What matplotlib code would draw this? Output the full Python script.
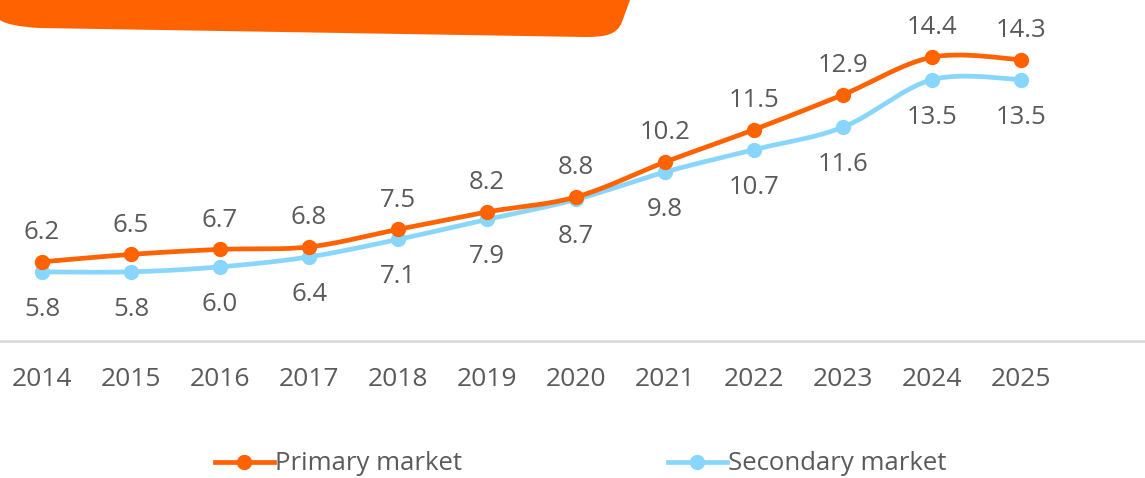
import numpy as np
import matplotlib
matplotlib.use("Agg")
import matplotlib.pyplot as plt
from matplotlib.path import Path
from matplotlib.patches import PathPatch
from matplotlib.lines import Line2D

years = ["2014", "2015", "2016", "2017", "2018", "2019", "2020",
         "2021", "2022", "2023", "2024", "2025"]
primary = [6.2, 6.5, 6.7, 6.8, 7.5, 8.2, 8.8, 10.2, 11.5, 12.9, 14.4, 14.3]
secondary = [5.8, 5.8, 6.0, 6.4, 7.1, 7.9, 8.7, 9.8, 10.7, 11.6, 13.5, 13.5]
series_names = ["Primary market", "Secondary market"]

ORANGE = "#FF6200"
BLUE = "#89D6FD"
TEXT = "#5a5a5a"
FONT = ["Open Sans", "DejaVu Sans"]
plt.rcParams['font.family'] = FONT

W, H = 1145, 478
fig = plt.figure(figsize=(W / 100, H / 100), dpi=100)

# banner overlay (pixel coords)
bax = fig.add_axes([0, 0, 1, 1], zorder=0)
bax.set_xlim(0, W)
bax.set_ylim(H, 0)
bax.axis("off")
verts = [(0, 0), (630, 0), (622, 22),
         (617, 35), (605, 37), (585, 37),
         (40, 28),
         (20, 27), (5, 24), (0, 20),
         (0, 0)]
codes = [Path.MOVETO, Path.LINETO, Path.LINETO,
         Path.CURVE4, Path.CURVE4, Path.CURVE4,
         Path.LINETO,
         Path.CURVE4, Path.CURVE4, Path.CURVE4,
         Path.CLOSEPOLY]
bax.add_patch(PathPatch(Path(verts, codes), facecolor=ORANGE, edgecolor="none"))

ax = fig.add_axes([0, (H - 341) / H, 1, 341 / H], zorder=1)
ax.patch.set_alpha(0)


def smooth(xs, ys, n=30):
    xs = np.asarray(xs, float)
    ys = np.asarray(ys, float)
    px = np.concatenate([[xs[0]], xs, [xs[-1]]])
    py = np.concatenate([[ys[0]], ys, [ys[-1]]])
    outx, outy = [], []
    t = np.linspace(0, 1, n)
    for i in range(1, len(px) - 2):
        p0 = np.array([px[i], py[i]])
        p3 = np.array([px[i + 1], py[i + 1]])
        p1 = p0 + (np.array([px[i + 1], py[i + 1]]) - np.array([px[i - 1], py[i - 1]])) / 6
        p2 = p3 - (np.array([px[i + 2], py[i + 2]]) - np.array([px[i], py[i]])) / 6
        b = ((1 - t) ** 3)[:, None] * p0 + (3 * (1 - t) ** 2 * t)[:, None] * p1 \
            + (3 * (1 - t) * t ** 2)[:, None] * p2 + (t ** 3)[:, None] * p3
        outx.extend(b[:, 0])
        outy.extend(b[:, 1])
    return np.array(outx), np.array(outy)


x = np.arange(len(years))
for vals, col, z in [(secondary, BLUE, 2), (primary, ORANGE, 3)]:
    sx, sy = smooth(x, vals)
    ax.plot(sx, sy, color=col, lw=3.4, zorder=z, solid_capstyle="round")
    ax.plot(x, vals, "o", color=col, ms=10, zorder=z)

for xi, v in zip(x, primary):
    ax.annotate(f"{v:.1f}", (xi, v), xytext=(0, 12), textcoords="offset points",
                ha="center", va="bottom", fontsize=18.5, color=TEXT)
for xi, v in zip(x, secondary):
    ax.annotate(f"{v:.1f}", (xi, v), xytext=(0, -18), textcoords="offset points",
                ha="center", va="top", fontsize=18.5, color=TEXT)

ax.set_xlim(-0.472, 12.39)
ax.set_ylim(3.03, 16.69)
for s in ["top", "right", "left"]:
    ax.spines[s].set_visible(False)
ax.spines["bottom"].set_color("#d9d9d9")
ax.spines["bottom"].set_linewidth(1.8)
ax.set_yticks([])
ax.set_xticks(x)
ax.set_xticklabels(years, fontsize=19, color=TEXT)
ax.tick_params(axis="x", length=0, pad=19)

handles = [Line2D([], [], color=ORANGE, lw=3.4, marker="o", ms=10),
           Line2D([], [], color=BLUE, lw=3.4, marker="o", ms=10)]
leg = fig.legend(handles, series_names, loc="center", bbox_to_anchor=(580.5 / W, 1 - 464 / H),
                 ncol=2, frameon=False, fontsize=18.5, handlelength=2.3,
                 handletextpad=0.05, columnspacing=8.0)
for t in leg.get_texts():
    t.set_color(TEXT)

fig.savefig("out.png", dpi=100)
